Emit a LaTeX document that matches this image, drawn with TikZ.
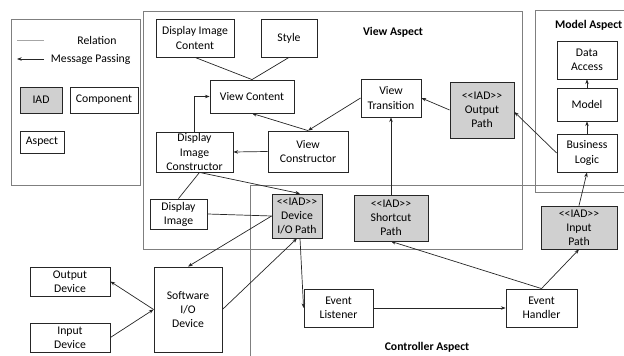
\documentclass[tikz,border=0pt]{standalone}
\usepackage{fontspec}
\setmainfont{Carlito}[Ligatures=TeXOff]
\usepackage{xcolor}
\usepackage{tikz}
\usetikzlibrary{arrows.meta}
\definecolor{frame}{HTML}{7F7F7F}
\definecolor{iadbg}{HTML}{D0D0D0}
\definecolor{relgray}{HTML}{A6A6A6}
\definecolor{ink}{HTML}{262626}
\tikzset{
  comp/.style={
    draw=ink,
    line width=0.7pt,
    fill=white,
    align=center,
    inner sep=1pt,
    font=\fontsize{10}{12}\selectfont
  },
  iad/.style={comp, fill=iadbg},
  aspect/.style={draw=frame, line width=0.8pt},
  aspect label/.style={font=\fontsize{10}{12}\selectfont\bfseries},
  rel/.style={line width=0.6pt, color=ink},
  msg/.style={
    -{Stealth[length=4pt, width=3pt]},
    line width=0.6pt,
    color=ink
  }
}

\begin{document}
\begin{tikzpicture}
  \useasboundingbox (0,0) rectangle (18.72,10.68);
  \clip (0,0) rectangle (18.72,10.68);

  % Legend
  \draw[aspect] (0.33,10.11) rectangle (4.2,5.13);
  \coordinate (relA) at (0.51,9.48);
  \coordinate (relB) at (1.32,9.48);
  \draw[relgray, line width=0.8pt] (relA) -- (relB);
  \node[font=\fontsize{10}{12}\selectfont] (reltext) at (2.91,9.48) {Relation};
  \coordinate (msgA) at (1.32,8.91);
  \coordinate (msgB) at (0.51,8.91);
  \draw[msg] (msgA) -- (msgB);
  \node[font=\fontsize{10}{12}\selectfont] (msgtext) at (2.72,8.91) {Message Passing};
  \node[iad, minimum width=1.26cm, minimum height=0.78cm] (legiad) at (1.23,7.68) {IAD};
  \node[comp, minimum width=2.04cm, minimum height=0.78cm] (legcomp) at (3.12,7.68) {Component};
  \node[comp, minimum width=1.32cm, minimum height=0.66cm] (legasp) at (1.26,6.42) {Aspect};

  % Aspects
  \draw[aspect] (7.5,5.13) rectangle (19.2,-0.42);
  \draw[aspect] (4.29,10.35) rectangle (15.66,3.21);
  \draw[aspect] (16.05,10.38) rectangle (19.2,4.92);
  \node[aspect label] (viewlbl) at (11.79,9.72) {View Aspect};
  \node[aspect label] (modellbl) at (17.66,9.93) {Model Aspect};
  \node[aspect label] (ctrllbl) at (12.81,0.27) {Controller Aspect};

  % View aspect
  \node[comp, minimum width=2.34cm, minimum height=1.14cm] (dicontent) at (5.85,9.54) {Display Image\\Content};
  \node[comp, minimum width=1.68cm, minimum height=1.14cm] (style) at (8.67,9.54) {Style};
  \node[comp, minimum width=2.52cm, minimum height=0.99cm] (vcontent) at (7.56,7.785) {View Content};
  \node[comp, minimum width=1.8cm, minimum height=1.14cm] (vtrans) at (11.73,7.74) {View\\Transition};
  \node[iad, minimum width=1.92cm, minimum height=1.68cm] (outpath) at (14.46,7.38) {<<IAD>>\\Output\\Path};
  \node[comp, minimum width=2.31cm, minimum height=1.2cm] (diconst) at (5.835,6.12) {Display\\Image\\Constructor};
  \node[comp, minimum width=2.4cm, minimum height=1.23cm] (vconst) at (9.24,6.135) {View\\Constructor};
  \node[comp, minimum width=1.71cm, minimum height=0.9cm] (dimage) at (5.355,4.26) {Display\\Image};
  \node[iad, minimum width=1.5cm, minimum height=1.32cm] (devpath) at (8.91,4.2) {<<IAD>>\\Device\\I/O Path};
  \node[iad, minimum width=2.22cm, minimum height=1.38cm] (shortpath) at (11.73,4.14) {<<IAD>>\\Shortcut\\Path};

  % Model aspect
  \node[comp, minimum width=1.8cm, minimum height=1.14cm] (daccess) at (17.61,8.88) {Data\\Access};
  \node[comp, minimum width=1.8cm, minimum height=0.99cm] (model) at (17.61,7.545) {Model};
  \node[comp, minimum width=1.8cm, minimum height=1.14cm] (blogic) at (17.61,6.09) {Business\\Logic};

  % Controller aspect
  \node[iad, minimum width=2.28cm, minimum height=1.29cm] (inpath) at (17.37,3.855) {<<IAD>>\\Input\\Path};
  \node[comp, minimum width=2.07cm, minimum height=1.14cm] (elisten) at (10.155,1.44) {Event\\Listener};
  \node[comp, minimum width=2.13cm, minimum height=1.14cm] (ehandle) at (16.245,1.44) {Event\\Handler};

  % Devices
  \node[comp, minimum width=2.4cm, minimum height=0.87cm] (outdev) at (2.1,2.235) {Output\\Device};
  \node[comp, minimum width=2.4cm, minimum height=0.87cm] (indev) at (2.1,0.555) {Input\\Device};
  \node[comp, minimum width=2.04cm, minimum height=2.55cm] (swdev) at (5.64,1.395) {Software\\I/O\\Device};

  % Relations
  \draw[rel] (dicontent.south) -- (vcontent.north);
  \draw[rel] (style.south) -- (vcontent.north);
  \draw[rel] ([xshift=0.15cm]diconst.south) -- (dimage.north);
  \draw[rel] (dimage.east) -- (devpath.west);

  % Message passing
  \draw[msg] (diconst.north) |- (vcontent.west);
  \draw[msg] (vconst.west) -- (diconst.east);
  \draw[msg] (vconst.north) -- (vcontent.south);
  \draw[msg] (vtrans.west) -- (vconst.north);
  \draw[msg] (outpath.west) -- (vtrans.east);
  \draw[msg] (blogic.west) -- ([yshift=-0.06cm]outpath.east);
  \draw[msg] (blogic.north) -- (model.south);
  \draw[msg] (model.north) -- (daccess.south);
  \draw[msg] (shortpath.north) -- (vtrans.south);
  \draw[msg] (inpath.north) -- (blogic.south);
  \draw[msg] ([xshift=0.15cm]diconst.south) -- ([xshift=0.09cm]devpath.north);
  \draw[msg] (devpath.west) -- (swdev.north);
  \draw[msg] (swdev.east) -- (devpath.south);
  \draw[msg] (swdev.west) -- (outdev.east);
  \draw[msg] (indev.east) -- (swdev.west);
  \draw[msg] ([xshift=0.09cm]devpath.south) -- (elisten.west);
  \draw[msg] (elisten.east) -- (ehandle.west);
  \draw[msg] (ehandle.north) -- (shortpath.south);
  \draw[msg] (ehandle.north) -- (inpath.south);
\end{tikzpicture}
\end{document}
